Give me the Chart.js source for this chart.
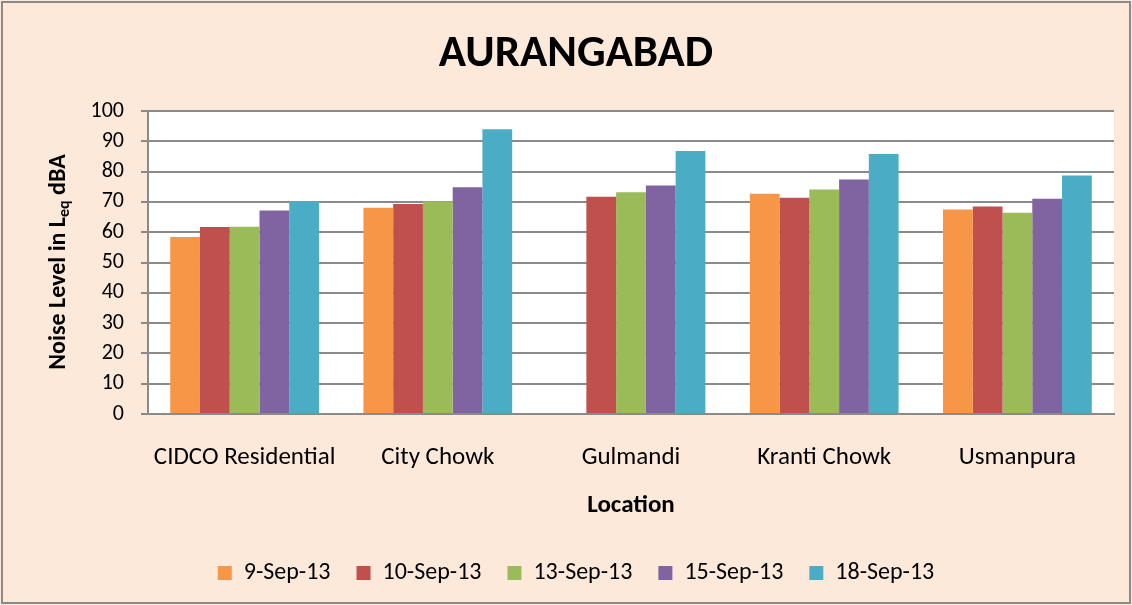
<!DOCTYPE html>
<html>
<head>
<meta charset="utf-8">
<script src="https://cdn.jsdelivr.net/npm/chart.js@4/dist/chart.umd.min.js"></script>
<style>
    html, body { margin: 0; padding: 0; background: #fde9d9; }
    #wrap { width: 1132px; height: 605px; }
</style>
</head>
<body>
<div id="wrap"><canvas id="chart" width="1132" height="605"></canvas></div>
<script>
// Chart data
const locations = ['CIDCO Residential', 'City Chowk', 'Gulmandi', 'Kranti Chowk', 'Usmanpura'];
const dates = ['9-Sep-13', '10-Sep-13', '13-Sep-13', '15-Sep-13', '18-Sep-13'];
const sep09 = [58.4, 68.1, null, 72.7, 67.5];
const sep10 = [61.7, 69.3, 71.7, 71.4, 68.5];
const sep13 = [61.8, 70.2, 73.2, 74.1, 66.4];
const sep15 = [67.2, 74.8, 75.4, 77.4, 71.0];
const sep18 = [70.2, 94.0, 86.8, 85.8, 78.7];
const yTicks = [0, 10, 20, 30, 40, 50, 60, 70, 80, 90, 100];

const colors = ['#f79646', '#c0504d', '#9bbb59', '#8064a2', '#4bacc6'];
const FONT = 'Carlito, Lato, sans-serif';

// Peach background, gray frame and white plot area
const backgroundPlugin = {
    id: 'background',
    beforeDraw(chart) {
        const ctx = chart.ctx;
        const a = chart.chartArea;
        ctx.save();
        ctx.fillStyle = '#fde9d9';
        ctx.fillRect(0, 0, chart.width, chart.height);
        ctx.strokeStyle = '#8a8a8a';
        ctx.lineWidth = 2;
        ctx.strokeRect(2, 2, chart.width - 4, chart.height - 4);
        ctx.fillStyle = '#ffffff';
        ctx.fillRect(a.left, a.top, a.right - a.left, a.bottom - a.top);
        ctx.restore();
    }
};

// Y axis title with the "eq" subscript
const yTitlePlugin = {
    id: 'yTitle',
    afterDraw(chart) {
        const ctx = chart.ctx;
        const parts = [
            { text: 'Noise Level in L', size: 24, dy: 0 },
            { text: 'eq', size: 16, dy: 6 },
            { text: ' dBA', size: 24, dy: 0 }
        ];
        ctx.save();
        let total = 0;
        parts.forEach(p => {
            ctx.font = 'bold ' + p.size + 'px ' + FONT;
            p.w = ctx.measureText(p.text).width;
            total += p.w;
        });
        ctx.translate(59, 262);
        ctx.rotate(-Math.PI / 2);
        ctx.fillStyle = '#000';
        ctx.textBaseline = 'middle';
        let x = -total / 2;
        parts.forEach(p => {
            ctx.font = 'bold ' + p.size + 'px ' + FONT;
            ctx.fillText(p.text, x, p.dy);
            x += p.w;
        });
        ctx.restore();
    }
};

const seriesValues = [sep09, sep10, sep13, sep15, sep18];

new Chart(document.getElementById('chart'), {
    type: 'bar',
    data: {
        labels: locations,
        datasets: dates.map((d, i) => ({
            label: d,
            data: seriesValues[i],
            backgroundColor: colors[i],
            borderWidth: 0,
            categoryPercentage: 0.77,
            barPercentage: 1.0
        }))
    },
    options: {
        responsive: false,
        animation: false,
        layout: { padding: { left: 38, right: 18, top: 0, bottom: 10 } },
        plugins: {
            title: {
                display: true,
                text: 'AURANGABAD',
                color: '#000',
                font: { family: FONT, size: 45, weight: 'bold' },
                padding: { top: 28, bottom: 29 }
            },
            legend: {
                position: 'bottom',
                labels: {
                    color: '#000',
                    font: { family: FONT, size: 24 },
                    boxWidth: 14,
                    boxHeight: 14,
                    padding: 26
                }
            },
            tooltip: { enabled: false }
        },
        scales: {
            x: {
                grid: { display: false },
                border: { display: true, color: '#8a8a8a', width: 2 },
                ticks: { color: '#000', font: { family: FONT, size: 25 }, padding: 21, maxRotation: 0 },
                title: {
                    display: true,
                    text: 'Location',
                    color: '#000',
                    font: { family: FONT, size: 25, weight: 'bold' },
                    padding: { top: 10, bottom: 14 }
                },
                afterFit(scale) { scale.height = 121; }
            },
            y: {
                min: 0,
                max: 100,
                afterBuildTicks(scale) { scale.ticks = yTicks.map(v => ({ value: v })); },
                grid: { color: '#8a8a8a', lineWidth: 2, tickLength: 7 },
                border: { display: true, color: '#8a8a8a', width: 2 },
                ticks: { color: '#000', font: { family: FONT, size: 22 }, padding: 17 },
                afterFit(scale) { scale.width = 110; }
            }
        }
    },
    plugins: [backgroundPlugin, yTitlePlugin]
});
</script>
</body>
</html>
